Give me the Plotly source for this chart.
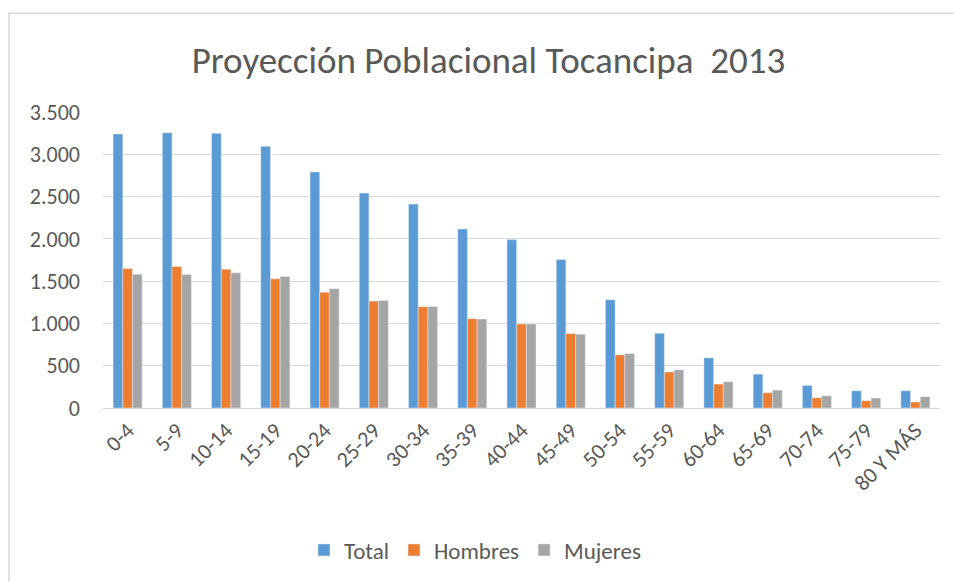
import plotly.graph_objects as go

# Age groups and population projection values
categories = ["0-4", "5-9", "10-14", "15-19", "20-24", "25-29", "30-34", "35-39",
              "40-44", "45-49", "50-54", "55-59", "60-64", "65-69", "70-74",
              "75-79", "80 Y MÁS"]
total = [3240, 3255, 3248, 3094, 2792, 2541, 2411, 2117, 1991, 1755, 1280,
         884, 593, 400, 267, 204, 204]
hombres = [1650, 1673, 1641, 1528, 1370, 1264, 1198, 1056, 993, 880, 628,
           426, 283, 180, 121, 86, 71]
mujeres = [1582, 1579, 1598, 1555, 1410, 1272, 1200, 1052, 993, 872, 644,
           451, 310, 212, 145, 118, 133]
y_ticks = [0, 500, 1000, 1500, 2000, 2500, 3000, 3500]

FONT = "Carlito, Lato, 'Open Sans', sans-serif"
TEXT = "#595959"
GRID = "#d9d9d9"

fig = go.Figure()
fig.add_trace(go.Bar(name="Total", x=categories, y=total, marker_color="#5B9BD5"))
fig.add_trace(go.Bar(name="Hombres", x=categories, y=hombres, marker_color="#ED7D31"))
fig.add_trace(go.Bar(name="Mujeres", x=categories, y=mujeres, marker_color="#A5A5A5"))

# plot area: x 103..940, y 112..409 in pixels
L, R, T, B = 103, 14, 112, 173
W, H = 954, 582
pw, ph = W - L - R, H - T - B


def px(x):
    return (x - L) / pw


def py(y):
    return (H - B - y) / ph


fig.update_layout(
    width=W, height=H,
    margin=dict(l=L, r=R, t=T, b=B),
    paper_bgcolor="white", plot_bgcolor="white",
    font=dict(family=FONT, color=TEXT, size=22),
    separators=",.",
    barmode="group", bargap=0.41, bargroupgap=0,
    title=dict(text="Proyección Poblacional Tocancipa  2013",
               x=0.512, xanchor="center", y=1 - 60 / H, yanchor="middle",
               font=dict(size=37, color=TEXT, family=FONT)),
    legend=dict(orientation="h", x=px(475), xanchor="center", y=py(550), yanchor="middle",
                font=dict(size=23, color=TEXT), itemwidth=30, traceorder="normal"),
    showlegend=True,
)
fig.update_xaxes(tickangle=-45, showgrid=False, showline=True, linecolor=GRID,
                 linewidth=1, ticks="", tickfont=dict(size=22, color=TEXT))
fig.update_yaxes(range=[0, 3500], tickvals=y_ticks, tickformat=",d", showgrid=True,
                 gridcolor=GRID, gridwidth=1, zeroline=False, showline=False,
                 ticks="", ticklabelstandoff=22, tickfont=dict(size=22, color=TEXT))

# chart frame (left and top edges visible)
fig.add_shape(type="path", xref="paper", yref="paper",
              path=f"M {px(9)},{py(600)} L {px(9)},{py(13)} L {px(960)},{py(13)}",
              line=dict(color=GRID, width=1.5))

fig.write_html("out.html", config={"displayModeBar": False},
               post_script="document.body.style.margin='0';document.body.style.overflow='hidden';")
